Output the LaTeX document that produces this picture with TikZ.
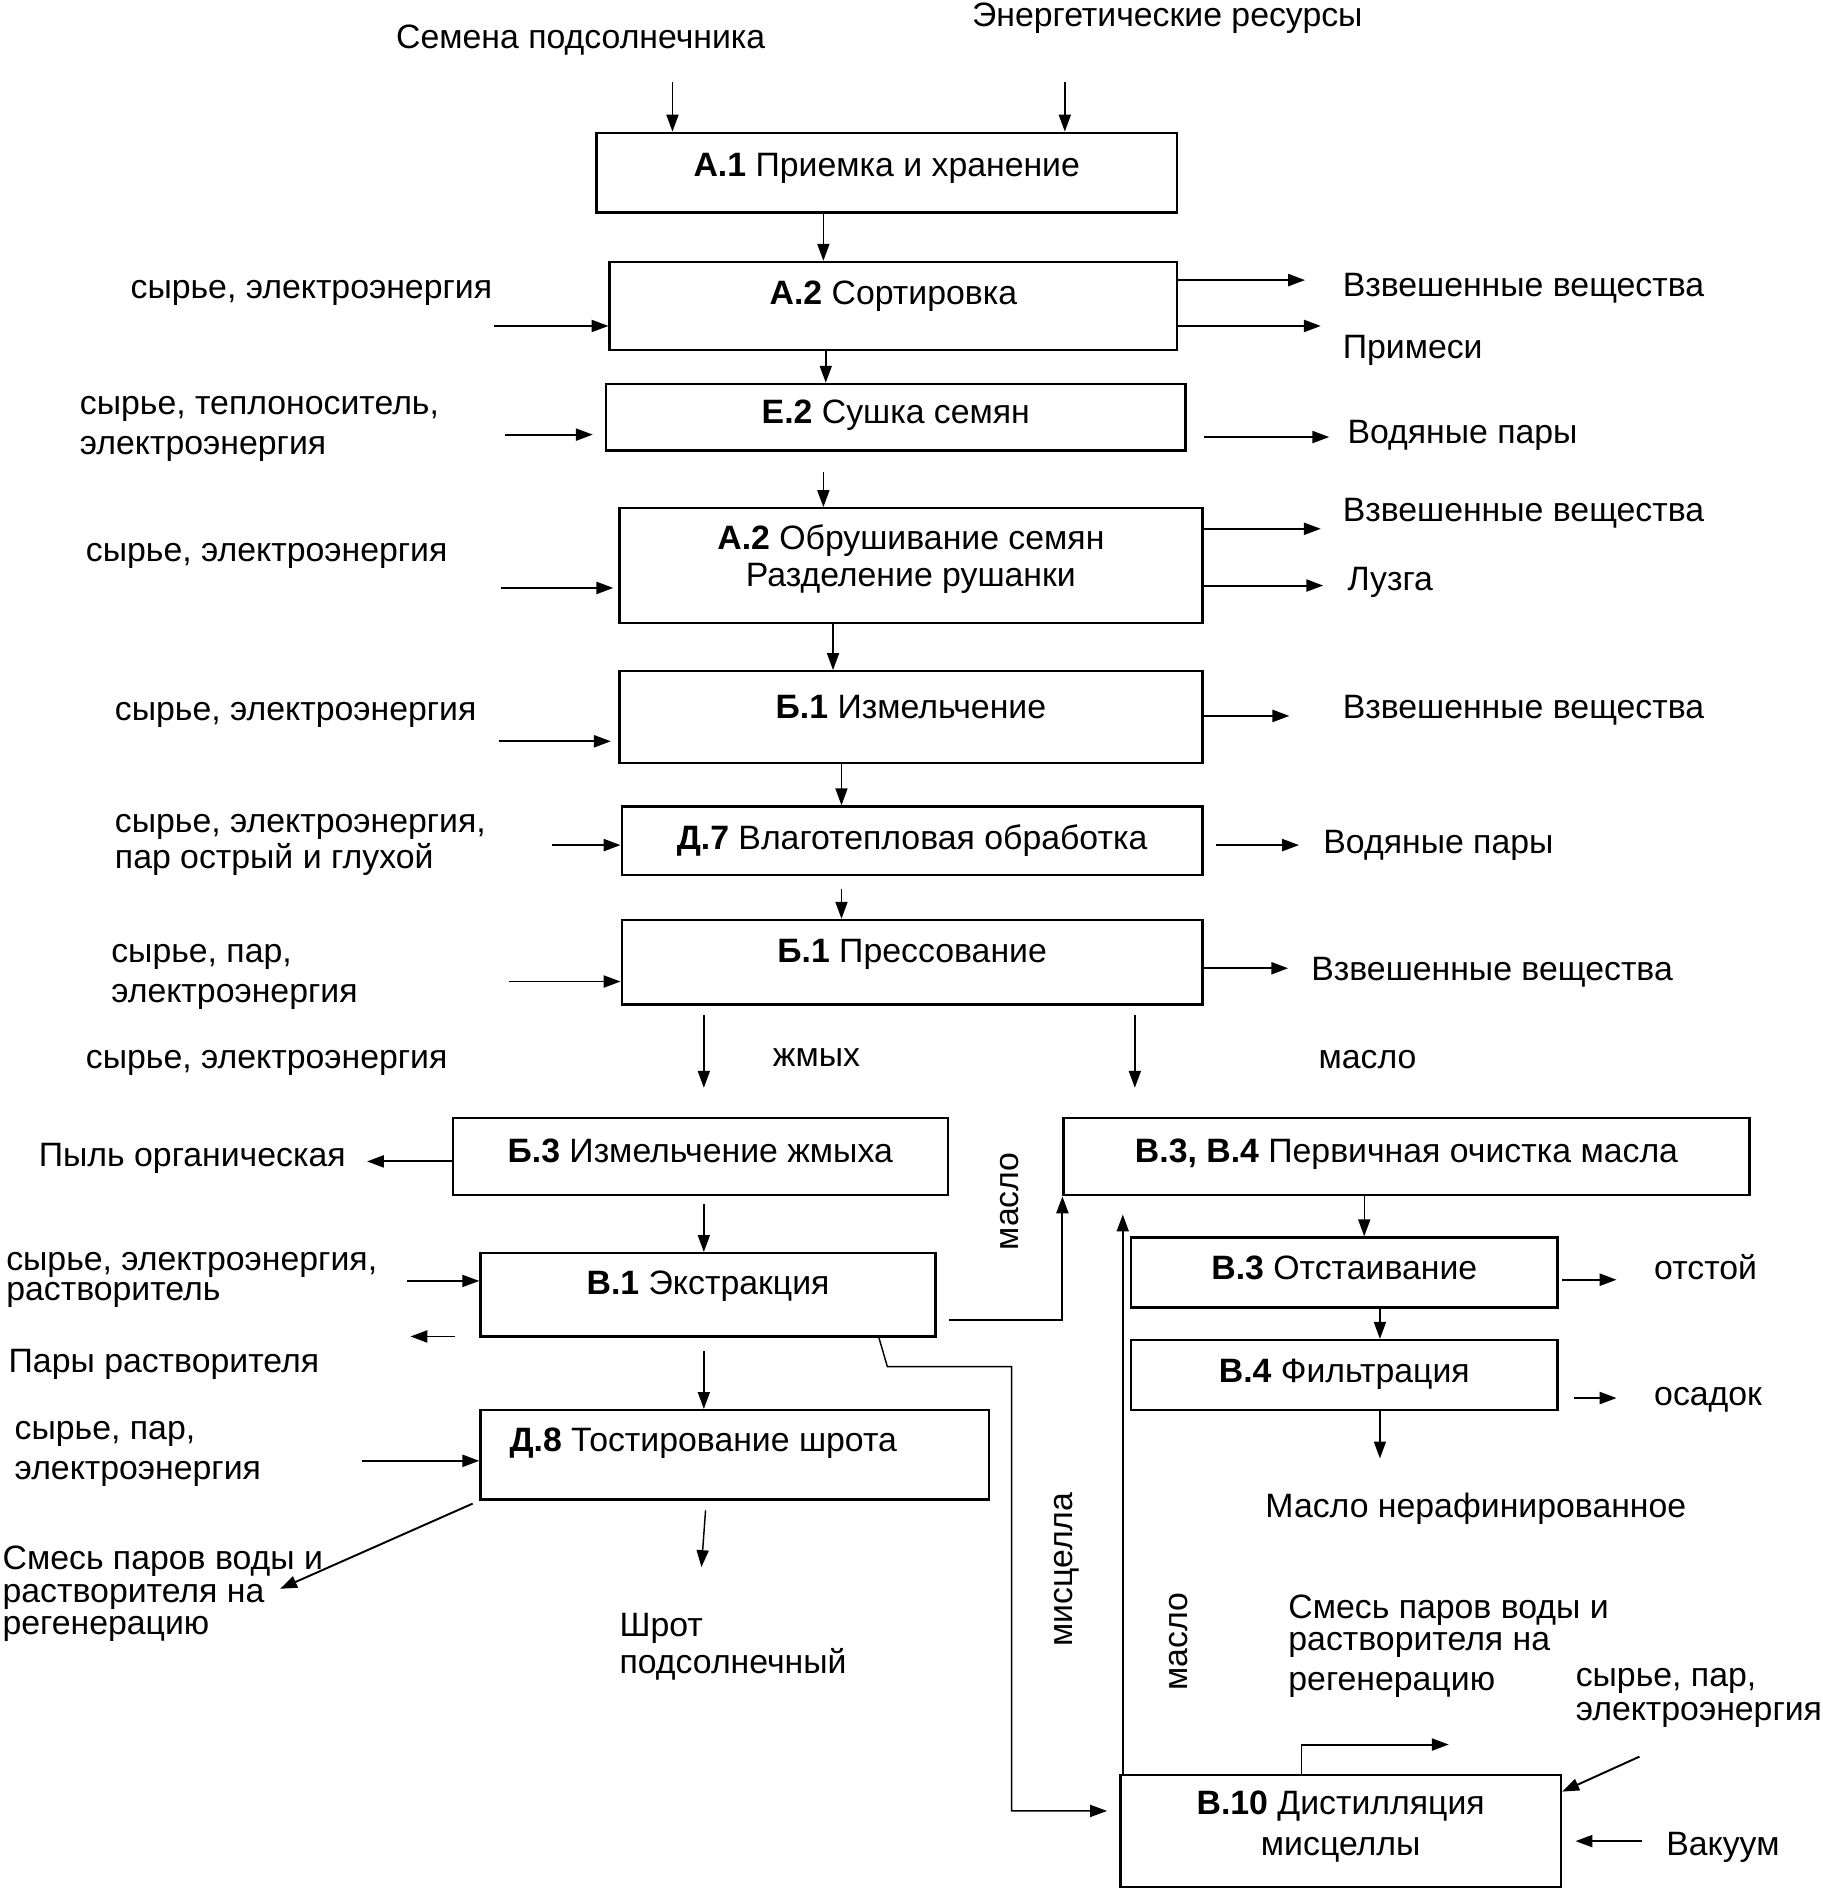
\documentclass[tikz,border=0pt]{standalone}
\usepackage{fontspec}
\setmainfont{Liberation Sans}
\usetikzlibrary{arrows.meta}
\begin{document}
\begin{tikzpicture}[x=1pt,y=-1pt,
  every node/.style={font=\fontsize{28pt}{31pt}\selectfont},
  box/.style={draw, line width=2pt, inner sep=0pt, text height=20pt, align=center},
  lbl/.style={anchor=north west, inner sep=0pt, text height=20pt, align=left},
  rot/.style={rotate=90, inner sep=0pt, text height=14.6pt, text depth=0pt},
  arr/.style={line width=1.6pt, -{Triangle[length=14pt,width=10pt]}},
  thin arr/.style={line width=1.2pt, -{Triangle[length=14pt,width=10pt]}}]
\fill[white] (0,0) rectangle (1510,1565.5);
\useasboundingbox (0,0) rectangle (1510,1565.5);

% boxes
\node[box, minimum width=481pt, minimum height=66pt, text depth=14pt] (a1) at (734.5,143) {\textbf{А.1} Приемка и хранение};
\node[box, minimum width=470pt, minimum height=73pt, text depth=23pt] (a2) at (740,253.5) {\textbf{А.2} Сортировка};
\node[box, minimum width=480pt, minimum height=55pt, text depth=9pt] (e2) at (742,345.5) {\textbf{Е.2} Сушка семян};
\node[box, minimum width=483pt, minimum height=95pt, text height=51pt, text depth=16pt] (ob) at (754.5,468.5) {\textbf{А.2} Обрушивание семян\\Разделение рушанки};
\node[box, minimum width=483pt, minimum height=76pt, text depth=18pt] (b1i) at (754.5,594) {\textbf{Б.1} Измельчение};
\node[box, minimum width=481pt, minimum height=57pt, text depth=5pt] (d7) at (755.5,696.5) {\textbf{Д.7} Влаготепловая обработка};
\node[box, minimum width=481pt, minimum height=70pt, text depth=20pt] (b1p) at (755.5,797) {\textbf{Б.1} Прессование};
\node[box, minimum width=410pt, minimum height=64pt, text depth=10pt] (b3) at (580,958) {\textbf{Б.3} Измельчение жмыха};
\node[box, minimum width=568pt, minimum height=64pt, text depth=10pt] (b34) at (1165,958) {\textbf{В.3, В.4} Первичная очистка масла};
\node[box, minimum width=377pt, minimum height=69pt, text depth=21pt] (b1) at (586.5,1072.5) {\textbf{В.1} Экстракция};
\node[box, minimum width=421pt, minimum height=74pt, text depth=26pt] (d8) at (608.5,1205) {\textbf{Д.8} Тостирование шрота\kern52pt};
\node[box, minimum width=353pt, minimum height=58pt, text depth=8pt] (b3o) at (1113.5,1054) {\textbf{В.3} Отстаивание};
\node[box, minimum width=353pt, minimum height=58pt, text depth=8pt] (b4) at (1113.5,1139) {\textbf{В.4} Фильтрация};
\node[box, minimum width=365pt, minimum height=93pt, text height=54pt, text depth=13pt] (b10) at (1110.5,1516.5) {\textbf{В.10} Дистилляция\\[3pt]мисцеллы};

% labels top
\node[lbl] (t1) at (328,20) {Семена подсолнечника};
\node[lbl] (t2) at (805,2) {Энергетические ресурсы};
% labels left
\node[lbl] (l1) at (108,227) {сырье, электроэнергия};
\node[lbl, text height=53pt] (l2) at (66,323) {сырье, теплоноситель,\\[2pt]электроэнергия};
\node[lbl] (l3) at (71,445) {сырье, электроэнергия};
\node[lbl] (l4) at (95,577) {сырье, электроэнергия};
\node[lbl, text height=50pt] (l5) at (95,669) {сырье, электроэнергия,\\[-1pt]пар острый и глухой};
\node[lbl, text height=53pt] (l6) at (92,777) {сырье, пар,\\[2pt]электроэнергия};
\node[lbl] (l7) at (71,865) {сырье, электроэнергия};
\node[lbl] (l8) at (32,946) {Пыль органическая};
\node[lbl, text height=45pt] (l9) at (5,1032) {сырье, электроэнергия,\\[-6pt]растворитель};
\node[lbl] (l10) at (7,1117) {Пары растворителя};
\node[lbl, text height=53pt] (l11) at (12,1172) {сырье, пар,\\[2pt]электроэнергия};
\node[lbl, text height=74pt] (l12) at (2,1280) {Смесь паров воды и\\[-4pt]растворителя на\\[-4pt]регенерацию};
\node[lbl, text height=51pt] (l13) at (513,1335) {Шрот\\подсолнечный};
\node[lbl] (zh) at (640,863) {жмых};
\node[lbl] (ms) at (1092,865) {масло};
% labels right
\node[lbl] (r1) at (1112,225) {Взвешенные вещества};
\node[lbl] (r2) at (1112,277) {Примеси};
\node[lbl] (r3) at (1116,347) {Водяные пары};
\node[lbl] (r4) at (1112,412) {Взвешенные вещества};
\node[lbl] (r5) at (1116,469) {Лузга};
\node[lbl] (r6) at (1112,575) {Взвешенные вещества};
\node[lbl] (r7) at (1096,687) {Водяные пары};
\node[lbl] (r8) at (1086,792) {Взвешенные вещества};
\node[lbl] (r9) at (1370,1040) {отстой};
\node[lbl] (r10) at (1370,1144) {осадок};
\node[lbl] (r11) at (1048,1237) {Масло нерафинированное};
\node[lbl, text height=80pt] (r12) at (1067,1320) {Смесь паров воды и\\[-4pt]растворителя на\\[2pt]регенерацию};
\node[lbl, text height=48pt] (r13) at (1305,1377) {сырье, пар,\\[-3pt]электроэнергия};
\node[lbl] (r14) at (1380,1517) {Вакуум};
% rotated labels
\node[rot] (rm1) at (836,995) {масло};
\node[rot] (rm2) at (881,1300) {мисцелла};
\node[rot] (rm3) at (976,1360) {масло};

% top inputs
\coordinate (s1) at (557,68);
\coordinate (s2) at (882,68);
\draw[thin arr] (s1) -- (s1 |- a1.north);
\draw[thin arr] (s2) -- (s2 |- a1.north);

% main chain
\draw[thin arr] (a1.south -| 682,0) -- (a2.north -| 682,0);
\draw[thin arr] (a2.south -| 684,0) -- (e2.north -| 684,0);
\draw[thin arr, shorten <=17pt] (e2.south -| 682,0) -- (ob.north -| 682,0);
\draw[thin arr] (ob.south -| 690,0) -- (b1i.north -| 690,0);
\draw[thin arr] (b1i.south -| 697,0) -- (d7.north -| 697,0);
\draw[thin arr, shorten <=10pt] (d7.south -| 697,0) -- (b1p.north -| 697,0);
\draw[thin arr, shorten <=8pt, shorten >=24pt] (b1p.south -| 583,0) -- (b3.north -| 583,0);
\draw[thin arr, shorten <=8pt, shorten >=24pt] (b1p.south -| 940,0) -- (b34.north -| 940,0);
\draw[thin arr, shorten <=6pt] (b3.south -| 583,0) -- (b1.north -| 583,0);
\draw[thin arr, shorten <=11pt] (b1.south -| 583,0) -- (d8.north -| 583,0);
\coordinate (shr) at (581,1298);
\draw[thin arr, shorten <=8pt] (d8.south -| 585,0) -- (shr);
\draw[thin arr] (b34.south -| 1130,0) -- (b3o.north -| 1130,0);
\draw[thin arr] (b3o.south -| 1143,0) -- (b4.north -| 1143,0);
\coordinate (mn) at (1143,1208);
\draw[thin arr] (b4.south -| mn) -- (mn);

% right outputs
\draw[arr] (a2.east |- 0,232) -- ++(105,0);
\draw[arr] (a2.east |- 0,270) -- ++(118,0);
\draw[arr, shorten <=14pt] (e2.east |- 0,362) -- ++(118,0);
\draw[arr] (ob.east |- 0,438) -- ++(97,0);
\draw[arr] (ob.east |- 0,485) -- ++(99,0);
\draw[arr] (b1i.east |- 0,593) -- ++(71,0);
\draw[arr, shorten <=10pt] (d7.east |- 0,700) -- ++(79,0);
\draw[arr] (b1p.east |- 0,802) -- ++(70,0);
\draw[arr, shorten <=3pt] (b3o.east |- 0,1060) -- ++(48,0);
\draw[arr, shorten <=13pt] (b4.east |- 0,1158) -- ++(48,0);

% left inputs
\coordinate (i1) at (409,270);
\coordinate (i2) at (418,360);
\coordinate (i3) at (415,487);
\coordinate (i4) at (413,614);
\coordinate (i5) at (457,700);
\coordinate (i6) at (422,813);
\coordinate (i7) at (337,1061);
\coordinate (i8) at (300,1210);
\draw[arr] (i1) -- (i1 -| a2.west);
\draw[arr, shorten >=10pt] (i2) -- (i2 -| e2.west);
\draw[arr, shorten >=4pt] (i3) -- (i3 -| ob.west);
\draw[arr, shorten >=6pt] (i4) -- (i4 -| b1i.west);
\draw[arr] (i5) -- (i5 -| d7.west);
\draw[arr] (i6) -- (i6 -| b1p.west);
\draw[thin arr] (i7) -- (i7 -| b1.west);
\draw[arr] (i8) -- (i8 -| d8.west);

% left outputs
\draw[arr] (b3.west |- 0,962) -- ++(-70,0);
\coordinate (o2) at (340,1107);
\draw[arr, shorten <=20pt] (o2 -| b1.west) -- (o2);
\coordinate (o3) at (232,1316);
\draw[arr, shorten <=6pt] (d8.south west) -- (o3);

% oil from extraction
\draw[arr, shorten <=10pt] (b1.east |- 0,1093) -- (b34.south west |- 0,1093) -- (b34.south west);
% miscella
\coordinate (m1) at (735,1132);
\coordinate (m2) at (838,1132);
\coordinate (m3) at (838,1500);
\draw[thin arr, shorten >=10pt] (b1.south -| 728,0) -- (m1) -- (m2) -- (m3) -- (m3 -| b10.west);
% distillation
\draw[thin arr, shorten >=15pt] (b10.north -| 930,0) -- (b34.south -| 930,0);
\draw[arr] (b10.north -| 1078,0) -- ++(0,-24) -- ++(122,0);
\coordinate (dv) at (1358,1455);
\draw[arr] (dv) -- ([yshift=-15pt]b10.north east);
\coordinate (vk) at (1360,1525);
\draw[arr, shorten >=11pt] (vk) -- (vk -| b10.east);
\end{tikzpicture}
\end{document}
